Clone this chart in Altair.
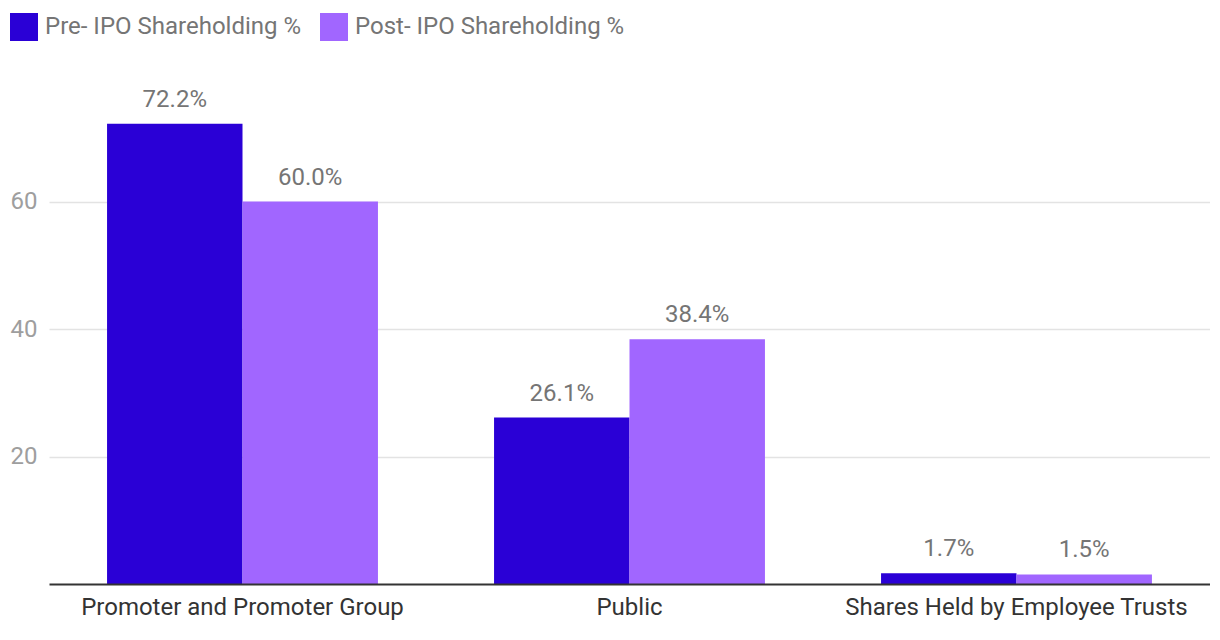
import altair as alt
import pandas as pd

categories = ["Promoter and Promoter Group", "Public", "Shares Held by Employee Trusts"]
series_names = ["Pre- IPO Shareholding %", "Post- IPO Shareholding %"]
pre_values = [72.2, 26.1, 1.7]
post_values = [60.0, 38.4, 1.5]
colors = ["#2a00d6", "#a166ff"]
y_ticks = [20, 40, 60]

rows = []
for c, v in zip(categories, pre_values):
    rows.append({"category": c, "series": series_names[0], "value": v})
for c, v in zip(categories, post_values):
    rows.append({"category": c, "series": series_names[1], "value": v})
df = pd.DataFrame(rows)

base = alt.Chart(df).encode(
    x=alt.X(
        "category:N",
        sort=categories,
        scale=alt.Scale(paddingInner=0.3, paddingOuter=0.15),
        axis=alt.Axis(
            title=None, labelAngle=0, ticks=False, grid=False,
            domainColor="#333333", domainWidth=2,
            labelFontSize=24, labelColor="#333333", labelPadding=11,
            labelLimit=0, zindex=1,
        ),
    ),
    xOffset=alt.XOffset("series:N", sort=series_names,
                        scale=alt.Scale(paddingInner=0, paddingOuter=0)),
    y=alt.Y(
        "value:Q",
        scale=alt.Scale(domain=[0, 80], nice=False),
        axis=alt.Axis(
            values=y_ticks, title=None, domain=False, ticks=False,
            labelFontSize=24, labelColor="#9e9e9e", labelPadding=12,
            gridColor="#e3e3e3", gridWidth=1.5,
        ),
    ),
)

bars = base.mark_bar().encode(
    color=alt.Color(
        "series:N",
        sort=series_names,
        scale=alt.Scale(domain=series_names, range=colors),
        legend=alt.Legend(
            title=None, orient="none", legendX=-39, legendY=-61,
            direction="horizontal", symbolType="square", symbolSize=784,
            symbolStrokeWidth=0, labelFontSize=24, labelColor="#757575",
            labelOffset=7, columnPadding=18, padding=0, labelLimit=0,
        ),
    )
)

text = base.mark_text(
    dy=-17, fontSize=24, color="#757575", baseline="alphabetic"
).transform_calculate(
    label="format(datum.value, '.1f') + '%'"
).encode(text="label:N")

chart = (
    alt.layer(bars, text)
    .properties(
        width=1161, height=510,
        padding={"left": 41, "top": 66, "right": 0, "bottom": 40},
        autosize=alt.AutoSizeParams(type="none"),
    )
    .configure(font="Roboto")
    .configure_view(stroke=None)
)

chart.save("out.html", embed_options={"renderer": "svg", "actions": False})
